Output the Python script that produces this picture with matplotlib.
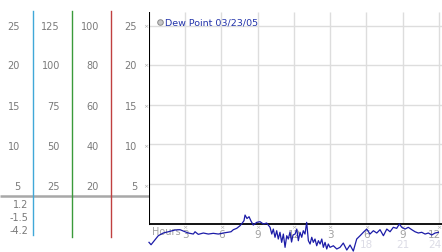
import matplotlib.pyplot as plt

# dew point trace, hour of day vs. value
hours = [0.0, 0.17, 0.5, 0.77, 1.18, 1.6, 2.15, 2.57, 2.98, 3.25, 3.67, 3.81, 4.08, 4.5,
         4.91, 5.32, 5.74, 6.15, 6.51, 6.79, 6.98, 7.26, 7.53, 7.72, 7.86, 7.95, 8.11,
         8.28, 8.44, 8.63, 8.92, 9.19, 9.46, 9.74, 10.02, 10.16, 10.29, 10.43, 10.57,
         10.70, 10.84, 10.98, 11.12, 11.26, 11.40, 11.53, 11.67, 11.8, 11.92, 12.09,
         12.23, 12.36, 12.5, 12.64, 12.77, 12.91, 13.05, 13.19, 13.33, 13.47, 13.6,
         13.74, 13.88, 14.02, 14.16, 14.3, 14.43, 14.57, 14.71, 14.84, 14.98, 15.26,
         15.54, 15.81, 16.08, 16.37, 16.64, 16.91, 17.19, 17.47, 17.74, 18.02, 18.29,
         18.57, 18.85, 19.12, 19.4, 19.68, 19.95, 20.22, 20.5, 20.72, 20.92, 21.19,
         21.46, 21.75, 22.02, 22.29, 22.57, 22.85, 23.12, 23.4, 23.68, 23.95]
dew_point = [-2.38, -2.68, -2.05, -1.54, -1.20, -1.04, -0.82, -0.78, -1.04, -1.20, -1.33,
             -1.04, -1.37, -1.20, -1.33, -1.24, -1.33, -1.20, -1.11, -1.04, -0.78, -0.61,
             -0.28, 0.06, 0.35, 1.07, 0.63, 0.86, 0.32, -0.19, 0.15, 0.23, -0.06, 0.06,
             -0.48, -1.33, -0.70, -1.74, -0.91, -1.96, -1.11, -2.38, -1.33, -3.01, -1.54,
             -1.96, -1.07, -2.34, -1.45, -1.33, -0.70, -2.17, -1.11, -1.74, -0.91, -1.33,
             0.15, -2.17, -2.59, -1.74, -2.38, -1.96, -2.81, -2.17, -2.59, -1.96, -3.01,
             -2.38, -3.22, -2.59, -3.01, -2.81, -3.22, -3.01, -2.47, -3.35, -2.72, -3.48,
             -1.96, -1.54, -1.11, -0.70, -1.33, -0.91, -1.20, -0.78, -1.54, -0.70, -1.04,
             -0.48, -0.61, -0.06, -0.48, -0.70, -0.48, -0.78, -1.04, -1.20, -1.11, -1.33,
             -1.20, -1.45, -1.20, -1.11]

main_ticks = [5, 10, 15, 20, 25]
scale_a = ['25', '20', '15', '10', '5']
scale_b = ['125', '100', '75', '50', '25']
scale_c = ['100', '80', '60', '40', '20']
scale_d = ['25', '20', '15', '10', '5']
low_scale = ['1.2', '-1.5', '-4.2']
hour_ticks = [3, 6, 9, 12, 15, 18, 21, 24]
hour_labels = ['3', '6', '9', '12', '3', '6', '9', '12']
hour24_labels = ['', '', '', '', '', '18', '21', '24']
legend_label = 'Dew Point 03/23/05'

W, H = 442, 253
fig = plt.figure(figsize=(W / 100, H / 100), dpi=100)
fig.patch.set_facecolor('white')

# left panel drawn in pixel coordinates
bg = fig.add_axes([0, 0, 1, 1])
bg.set_xlim(0, W)
bg.set_ylim(H, 0)
bg.axis('off')

gray_txt = '#7a7a7a'
label_y = [26.7, 66, 106.5, 146.5, 186.7]
cols = [(20, scale_a), (60, scale_b), (99, scale_c), (137, scale_d)]
for xr, labels in cols:
    for yy, lab in zip(label_y, labels):
        bg.text(xr, yy, lab, ha='right', va='center', fontsize=7, color=gray_txt)
for yy in label_y:
    bg.text(146, yy, '\u00d7', ha='center', va='center', fontsize=4.5, color='#aaaaaa')

for yy, lab in zip([204.7, 218.3, 231.5], low_scale):
    bg.text(28, yy, lab, ha='right', va='center', fontsize=7, color=gray_txt)

bg.plot([0, 149], [196.7, 196.7], color='#a8a8a8', lw=1.8, solid_capstyle='butt')
bg.plot([33, 33], [12, 236], color='#40a8d8', lw=1)
bg.plot([72.3, 72.3], [12, 238], color='#3a9a3a', lw=1)
bg.plot([111.3, 111.3], [12, 238], color='#c04040', lw=1)

# main chart
ax = fig.add_axes([149 / W, 0, (W - 149) / W, (H - 13) / H])
ax.set_xlim(0, 24.25)
ax.set_ylim(-3.6, 26.74)
ax.axis('off')

ax.hlines(main_ticks, 0, 24.25, color='#dddddd', lw=1, zorder=1)
ax.vlines(hour_ticks, 0, 26.74, color='#dddddd', lw=1, zorder=1)
ax.plot([0, 24.25], [0, 0], color='black', lw=1.3, zorder=3)
ax.plot([0, 0], [0, 26.74], color='black', lw=1.5, zorder=3)

ax.text(0.25, -0.95, 'Hours', ha='left', va='center', fontsize=7, color='#a0a0a0', zorder=2)
for h, lab, lab24 in zip(hour_ticks, hour_labels, hour24_labels):
    last = h == hour_ticks[-1]
    hx = 24.2 if last else h
    align = 'right' if last else 'center'
    ax.text(h, -0.45, '\u00d7', ha='center', va='center', fontsize=4.5, color='#aaaaaa', zorder=2)
    ax.text(hx, -1.35, lab, ha=align, va='center', fontsize=7.5, color='#a0a0a0', zorder=2)
    if lab24:
        ax.text(hx, -2.65, lab24, ha=align, va='center', fontsize=7.5, color='#dcdce6', zorder=2)

ax.plot(hours, dew_point, color='#1c1ca8', lw=0.9, zorder=4, clip_on=False)

# legend
ax.plot([0.95], [25.45], marker='o', ms=4, mfc='#c8c8c8', mec='#888888', mew=0.7,
        clip_on=False, zorder=5)
ax.text(1.3, 25.45, legend_label, ha='left', va='center', fontsize=6.8, color='#2233aa')

fig.savefig('out.png', dpi=100, facecolor='white')
